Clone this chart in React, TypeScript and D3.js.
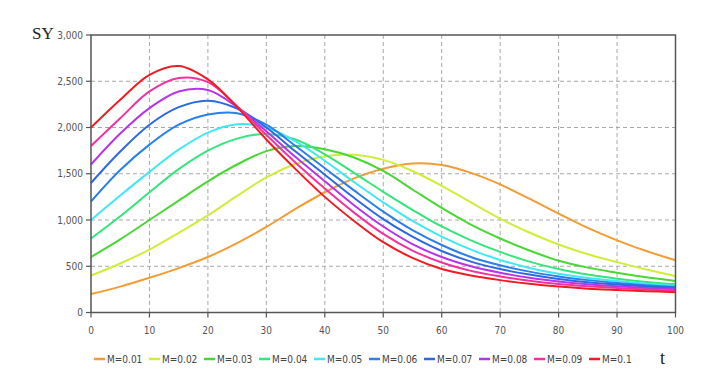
import React from "react";
import * as d3 from "d3";

const tValues = [0, 5, 10, 15, 20, 25, 30, 35, 40, 45, 50, 55, 60, 65, 70, 75, 80, 85, 90, 95, 100];

const seriesNames = ["M=0.01", "M=0.02", "M=0.03", "M=0.04", "M=0.05", "M=0.06", "M=0.07", "M=0.08", "M=0.09", "M=0.1"];

const seriesColors = ["#f39c34", "#d2ec3a", "#4ad634", "#33e57a", "#3fe8f2", "#2a80ee", "#2c68e4", "#b734ec", "#f2339f", "#ee1d24"];

const m001 = [200, 280, 375, 480, 600, 750, 925, 1120, 1300, 1450, 1555, 1610, 1595, 1510, 1385, 1230, 1070, 915, 780, 665, 565];
const m002 = [400, 530, 680, 860, 1050, 1260, 1460, 1605, 1690, 1705, 1650, 1530, 1370, 1190, 1015, 865, 735, 630, 545, 465, 395];
const m003 = [600, 790, 1000, 1210, 1418, 1600, 1745, 1800, 1765, 1675, 1530, 1330, 1130, 950, 800, 670, 560, 485, 430, 380, 340];
const m004 = [800, 1040, 1300, 1550, 1750, 1880, 1930, 1870, 1710, 1510, 1305, 1110, 930, 780, 655, 550, 470, 410, 365, 330, 305];
const m005 = [1000, 1265, 1520, 1760, 1945, 2035, 2000, 1850, 1640, 1410, 1190, 990, 820, 680, 568, 482, 418, 372, 340, 312, 290];
const m006 = [1200, 1540, 1815, 2030, 2140, 2155, 2030, 1800, 1560, 1320, 1090, 890, 730, 600, 510, 442, 390, 350, 320, 295, 275];
const m007 = [1400, 1740, 2030, 2220, 2290, 2205, 2000, 1740, 1490, 1240, 1010, 820, 665, 550, 470, 410, 362, 327, 302, 281, 265];
const m008 = [1600, 1935, 2210, 2390, 2405, 2220, 1960, 1680, 1420, 1160, 930, 740, 600, 500, 430, 375, 335, 305, 283, 265, 250];
const m009 = [1800, 2100, 2390, 2535, 2490, 2230, 1920, 1620, 1340, 1080, 850, 670, 540, 450, 390, 343, 308, 283, 264, 249, 236];
const m010 = [2000, 2300, 2570, 2665, 2520, 2220, 1870, 1550, 1250, 990, 760, 590, 470, 400, 350, 310, 280, 258, 243, 230, 220];

const allSeries = [m001, m002, m003, m004, m005, m006, m007, m008, m009, m010];

const xTicks = [0, 10, 20, 30, 40, 50, 60, 70, 80, 90, 100];
const yTicks = [0, 500, 1000, 1500, 2000, 2500, 3000];

const W = 718;
const H = 381;
const left = 91;
const right = 675.5;
const top = 35;
const bottom = 312.5;

export default function App() {
  const x = d3.scaleLinear().domain([0, 100]).range([left, right]);
  const y = d3.scaleLinear().domain([0, 3000]).range([bottom, top]);
  const fmt = d3.format(",");
  const line = d3
    .line<number>()
    .x((_, i) => x(tValues[i]))
    .y((d) => y(d))
    .curve(d3.curveCatmullRom.alpha(0.5));

  const tickFont = "'Liberation Sans Narrow', 'DejaVu Sans Condensed', 'Arial Narrow', sans-serif";

  return (
    <svg
      width={W}
      height={H}
      style={{ position: "absolute", left: 0, top: 0, background: "#fff" }}
    >
      <rect x={0} y={0} width={W} height={H} fill="#fff" />
      {xTicks
        .filter((t) => t > 0 && t < 100)
        .map((t) => (
          <line
            key={"gx" + t}
            x1={x(t)}
            x2={x(t)}
            y1={top}
            y2={bottom}
            stroke="#a8a8a8"
            strokeDasharray="4,3"
            strokeWidth={1}
          />
        ))}
      {yTicks
        .filter((v) => v > 0 && v < 3000)
        .map((v) => (
          <line
            key={"gy" + v}
            x1={left}
            x2={right}
            y1={y(v)}
            y2={y(v)}
            stroke="#a8a8a8"
            strokeDasharray="4,3"
            strokeWidth={1}
          />
        ))}
      {allSeries.map((s, i) => (
        <path
          key={"s" + i}
          d={line(s) || ""}
          fill="none"
          stroke={seriesColors[i]}
          strokeWidth={2}
        />
      ))}
      <rect
        x={left}
        y={top}
        width={right - left}
        height={bottom - top}
        fill="none"
        stroke="#555"
        strokeWidth={1.5}
      />
      {yTicks.map((v) => (
        <g key={"yt" + v}>
          <line x1={left - 5} x2={left} y1={y(v)} y2={y(v)} stroke="#555" strokeWidth={1.2} />
          <text
            x={left - 8}
            y={y(v)}
            dy="0.35em"
            textAnchor="end"
            fontFamily={tickFont}
            fontSize={10}
            fill="#555"
          >
            {fmt(v)}
          </text>
        </g>
      ))}
      {xTicks.map((t) => (
        <g key={"xt" + t}>
          <line x1={x(t)} x2={x(t)} y1={bottom} y2={bottom + 5} stroke="#555" strokeWidth={1.2} />
          <text
            x={x(t)}
            y={bottom + 21}
            textAnchor="middle"
            fontFamily={tickFont}
            fontSize={10}
            fill="#555"
          >
            {t}
          </text>
        </g>
      ))}
      <text x={32} y={39} fontFamily="'Liberation Serif', 'Times New Roman', serif" fontSize={17} fill="#222">
        SY
      </text>
      <text x={660} y={364} fontFamily="'Liberation Serif', 'Times New Roman', serif" fontSize={18} fill="#222">
        t
      </text>
      {seriesNames.map((n, i) => {
        const lx = 94 + i * 55;
        const ly = 359;
        return (
          <g key={"lg" + i}>
            <line x1={lx} x2={lx + 11} y1={ly} y2={ly} stroke={seriesColors[i]} strokeWidth={2.5} />
            <text
              x={lx + 13}
              y={ly}
              dy="0.35em"
              fontFamily={tickFont}
              fontSize={10}
              fill="#444"
            >
              {n}
            </text>
          </g>
        );
      })}
    </svg>
  );
}
